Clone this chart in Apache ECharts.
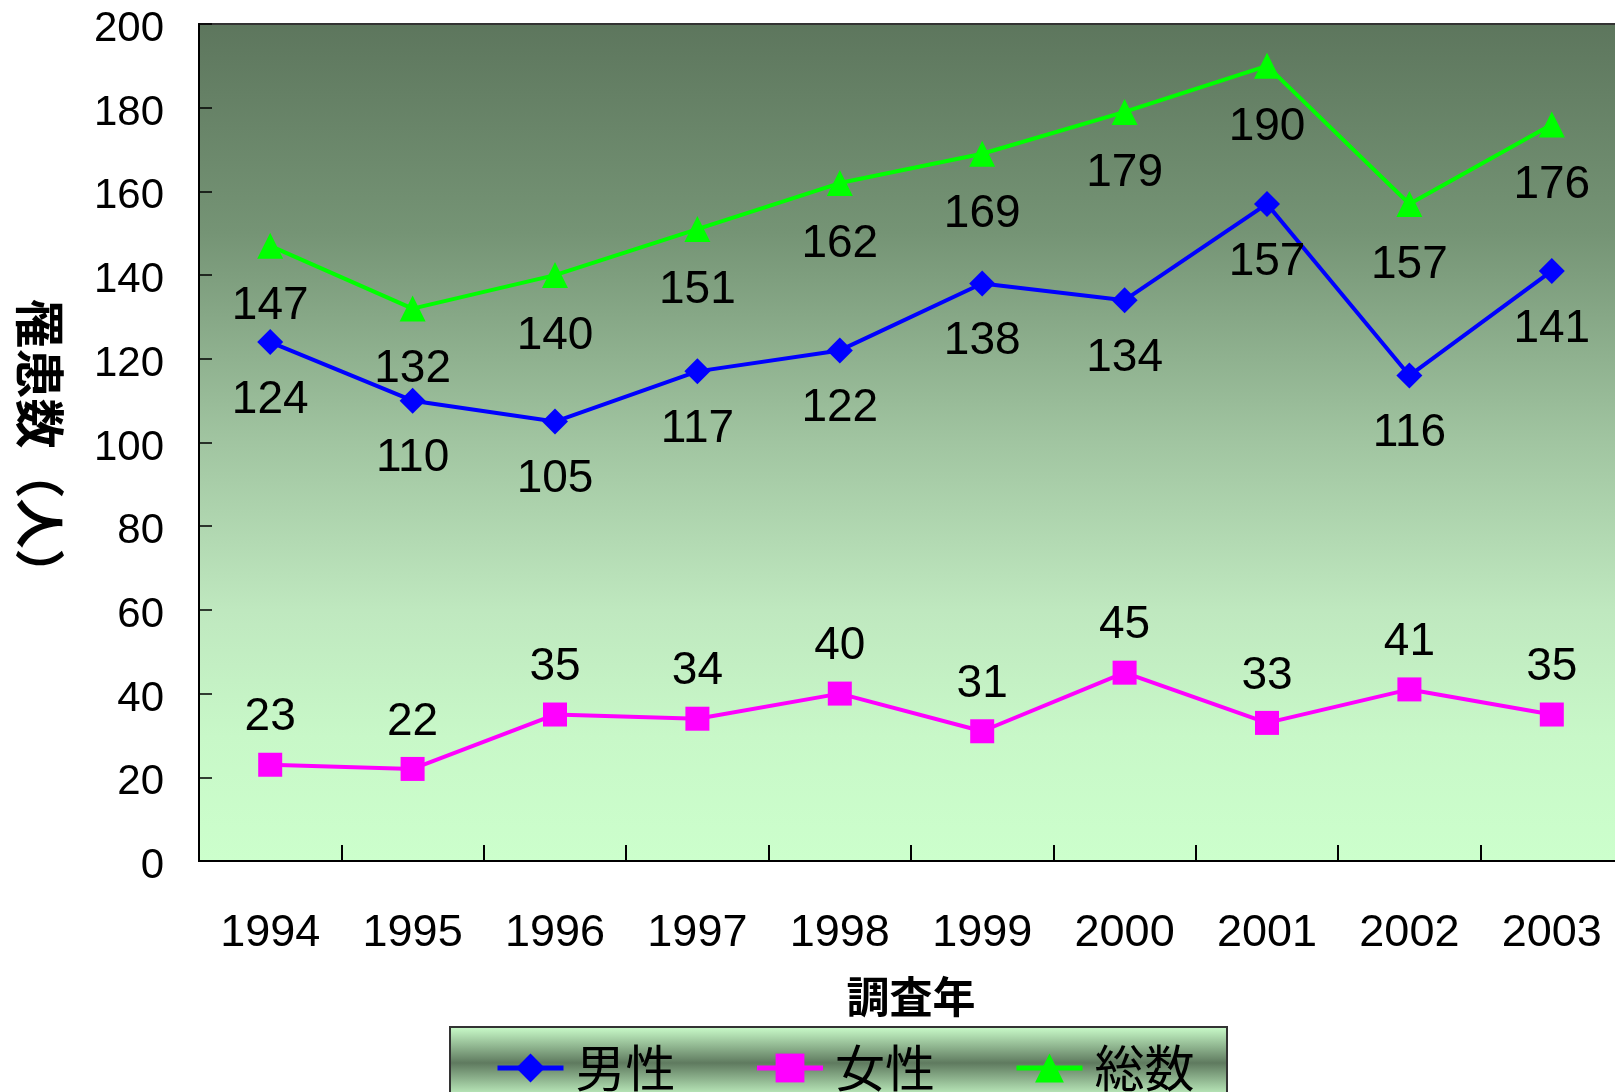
<!DOCTYPE html>
<html><head><meta charset="utf-8">
<script src="https://cdn.jsdelivr.net/npm/echarts@6/dist/echarts.min.js"></script>
<style>html,body{margin:0;padding:0;background:#fff;overflow:hidden;width:1615px;height:1092px}#c{width:1645px;height:1092px}</style>
</head><body><div id="c"></div>
<script>
const years = ['1994','1995','1996','1997','1998','1999','2000','2001','2002','2003'];
const male = [124,110,105,117,122,138,134,157,116,141];
const female = [23,22,35,34,40,31,45,33,41,35];
const total = [147,132,140,151,162,169,179,190,157,176];
const seriesNames = ['男性','女性','総数'];
const yTicks = {min:0, max:200, interval:20};

const chart = echarts.init(document.getElementById('c'));
const G = echarts.graphic;
const numFont = 'Liberation Sans, Arial, sans-serif';
const cjkFont = '"Noto Sans CJK JP", sans-serif';
const lbl = (pos, dist) => ({show:true, position:pos, distance:dist, color:'#000', fontSize:46, fontFamily:numFont});
chart.setOption({
  animation:false,
  grid:{left:199, top:24, width:1424, height:837, show:true, borderColor:'#333', borderWidth:2,
    backgroundColor:new G.LinearGradient(0,0,0,1,[
      {offset:0,color:'#5d765d'},{offset:0.25,color:'#759475'},{offset:0.5,color:'#a1c5a1'},
      {offset:0.7,color:'#bfe8bf'},{offset:0.85,color:'#c8f8c8'},{offset:1,color:'#ccffcc'}])},
  graphic:[{type:'rect', z:-10, shape:{x:450,y:1027,width:777,height:72},
    style:{stroke:'#333', lineWidth:2, fill:new G.LinearGradient(0,0,0,1,[
      {offset:0,color:'#ccffcc'},{offset:0.5,color:'#5f7a5f'},{offset:1,color:'#ccffcc'}])}}],
  legend:{left:490, top:1038, itemWidth:66, itemHeight:36, itemGap:79,
    lineStyle:{width:5},
    textStyle:{fontSize:50, fontFamily:cjkFont, color:'#000', padding:[0,0,0,7]},
    data:seriesNames},
  xAxis:{type:'category', data:years, boundaryGap:true,
    axisLine:{lineStyle:{color:'#000', width:2}},
    axisTick:{show:true, inside:true, length:16, lineStyle:{color:'#000', width:2}},
    axisLabel:{fontSize:45, fontFamily:numFont, color:'#000', margin:50},
    name:'調査年', nameLocation:'middle', nameGap:114,
    nameTextStyle:{fontSize:43, fontWeight:'bold', fontFamily:cjkFont, color:'#000'}},
  yAxis:{type:'value', min:yTicks.min, max:yTicks.max, interval:yTicks.interval,
    axisLine:{show:true, lineStyle:{color:'#000', width:2}},
    axisTick:{show:true, inside:true, length:13, lineStyle:{color:'#000', width:1.5}},
    splitLine:{show:false},
    axisLabel:{margin:35, formatter:v => '{a|' + v + '}',
      rich:{a:{fontSize:42, fontFamily:numFont, color:'#000', padding:[11,0,0,0]}}},
    name:'罹患数（人）', nameLocation:'middle', nameGap:134, nameRotate:-90,
    nameTextStyle:{fontSize:50, fontWeight:'bold', fontFamily:cjkFont, color:'#000', padding:[0,0,0,12]}},
  series:[
    {name:seriesNames[0], type:'line', data:male, symbol:'diamond', symbolSize:26,
      lineStyle:{color:'#0000ff', width:4}, itemStyle:{color:'#0000ff'}, label:lbl('bottom',22)},
    {name:seriesNames[1], type:'line', data:female, symbol:'rect', symbolSize:24,
      lineStyle:{color:'#ff00ff', width:4}, itemStyle:{color:'#ff00ff'}, label:lbl('top',12)},
    {name:seriesNames[2], type:'line', data:total, symbol:'triangle', symbolSize:26,
      lineStyle:{color:'#00ff00', width:4}, itemStyle:{color:'#00ff00'}, label:lbl('bottom',25)}
  ]
});
</script></body></html>
